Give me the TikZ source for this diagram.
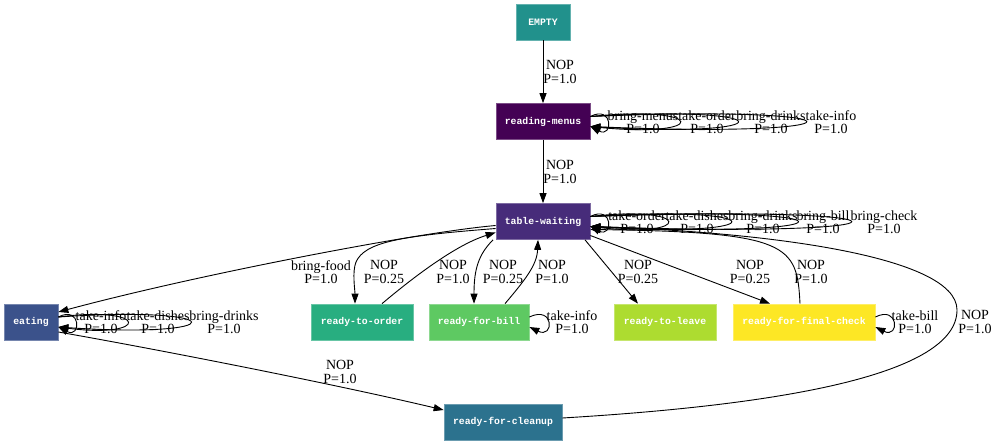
\documentclass[tikz,border=0pt]{standalone}
\usepackage{fontspec}
\setmainfont{Liberation Serif}
\newfontfamily\statefont{Liberation Mono}
\usetikzlibrary{arrows.meta,calc}

\definecolor{cEmpty}{HTML}{21918C}
\definecolor{cMenus}{HTML}{440154}
\definecolor{cWait}{HTML}{472C7A}
\definecolor{cEating}{HTML}{3B528B}
\definecolor{cOrder}{HTML}{28AE80}
\definecolor{cBill}{HTML}{5EC962}
\definecolor{cLeave}{HTML}{ADDC30}
\definecolor{cFinal}{HTML}{FDE725}
\definecolor{cClean}{HTML}{2C728E}

\tikzset{
  state/.style={rectangle, fill=#1, draw=#1!70!white, line width=0.7pt,
    minimum height=36pt, inner sep=0pt, text=white,
    font=\statefont\bfseries\fontsize{9.8}{10}\selectfont},
  arr/.style={-{Triangle[length=10pt,width=7pt]}, line width=0.9pt, black},
  lbl/.style={align=center, inner sep=0pt, font=\fontsize{14}{13.5}\selectfont}
}

\begin{document}
\begin{tikzpicture}[x=1pt,y=-1pt]
\useasboundingbox (0,0) rectangle (995,444);

% states
\node[state=cEmpty, minimum width=54pt]   (empty)  at (543,22)    {EMPTY};
\node[state=cMenus, minimum width=94pt]   (menus)  at (543,121.5) {reading-menus};
\node[state=cWait, minimum width=94pt]    (wait)   at (543,221.5) {table-waiting};
\node[state=cEating, minimum width=54pt]  (eating) at (31,322)    {eating};
\node[state=cOrder, minimum width=102pt]  (order)  at (362,322)   {ready-to-order};
\node[state=cBill, minimum width=100pt]   (bill)   at (479,322)   {ready-for-bill};
\node[state=cLeave, minimum width=102pt]  (leave)  at (665,322)   {ready-to-leave};
\node[state=cFinal, minimum width=142pt]  (final)  at (804,322)   {ready-for-final-check};
\node[state=cClean, minimum width=118pt]  (clean)  at (503,422)   {ready-for-cleanup};

% straight transitions down the spine
\draw[arr] (empty) -- (menus);
\node[lbl] (l-empty) at (560,72) {NOP\\P=1.0};
\draw[arr] (menus) -- (wait);
\node[lbl] (l-menus) at (560,172) {NOP\\P=1.0};

% self loops on reading-menus
\draw[arr] ($(menus.east)+(0,-5)$) .. controls +(23,-12) and +(23,12) .. ($(menus.east)+(0,5)$);
\draw[arr] ($(menus.east)+(0,-5)$) .. controls +(119,-12) and +(119,12) .. ($(menus.east)+(0,5)$);
\draw[arr] ($(menus.east)+(0,-5)$) .. controls +(196,-12) and +(196,12) .. ($(menus.east)+(0,5)$);
\draw[arr] ($(menus.east)+(0,-5)$) .. controls +(287,-12) and +(287,12) .. ($(menus.east)+(0,5)$);
\node[lbl] (l-m1) at (643,122) {bring-menus\\P=1.0};
\node[lbl] (l-m2) at (707,122) {take-order\\P=1.0};
\node[lbl] (l-m3) at (771,122) {bring-drinks\\P=1.0};
\node[lbl] (l-m4) at (831,122) {take-info\\P=1.0};

% self loops on table-waiting
\draw[arr] ($(wait.east)+(0,-5)$) .. controls +(23,-12) and +(23,12) .. ($(wait.east)+(0,5)$);
\draw[arr] ($(wait.east)+(0,-5)$) .. controls +(103,-12) and +(103,12) .. ($(wait.east)+(0,5)$);
\draw[arr] ($(wait.east)+(0,-5)$) .. controls +(187,-12) and +(187,12) .. ($(wait.east)+(0,5)$);
\draw[arr] ($(wait.east)+(0,-5)$) .. controls +(276,-12) and +(276,12) .. ($(wait.east)+(0,5)$);
\draw[arr] ($(wait.east)+(0,-5)$) .. controls +(347,-12) and +(347,12) .. ($(wait.east)+(0,5)$);
\node[lbl] (l-w1) at (637,222) {take-order\\P=1.0};
\node[lbl] (l-w2) at (697,222) {take-dishes\\P=1.0};
\node[lbl] (l-w3) at (763,222) {bring-drinks\\P=1.0};
\node[lbl] (l-w4) at (823,222) {bring-bill\\P=1.0};
\node[lbl] (l-w5) at (884,222) {bring-check\\P=1.0};

% self loops on eating
\draw[arr] ($(eating.east)+(0,-5)$) .. controls +(23,-12) and +(23,12) .. ($(eating.east)+(0,5)$);
\draw[arr] ($(eating.east)+(0,-5)$) .. controls +(92,-12) and +(92,12) .. ($(eating.east)+(0,5)$);
\draw[arr] ($(eating.east)+(0,-5)$) .. controls +(176,-12) and +(176,12) .. ($(eating.east)+(0,5)$);
\node[lbl] (l-e1) at (101,322) {take-info\\P=1.0};
\node[lbl] (l-e2) at (158,322) {take-dishes\\P=1.0};
\node[lbl] (l-e3) at (224,322) {bring-drinks\\P=1.0};

% self loops on ready-for-bill and ready-for-final-check
\draw[arr] ($(bill.east)+(0,-5)$) .. controls +(25,-12) and +(25,12) .. ($(bill.east)+(0,5)$);
\node[lbl] (l-b1) at (572,322) {take-info\\P=1.0};
\draw[arr] ($(final.east)+(0,-5)$) .. controls +(24,-12) and +(24,12) .. ($(final.east)+(0,5)$);
\node[lbl] (l-f1) at (915,322) {take-bill\\P=1.0};

% table-waiting -> eating
\draw[arr] ($(wait.west)+(0,4)$) .. controls (420,232) and (200,274) .. ($(eating.east)+(0,-10)$);
\node[lbl] (l-food) at (321,272) {bring-food\\P=1.0};

% table-waiting <-> ready-to-order
\draw[arr] ($(wait.west)+(0,7)$) .. controls (400,236) and (365,242) .. (356,262)
  .. controls (352,272) and (355,290) .. ($(order.north)+(-7,0)$);
\node[lbl] (l-to) at (384,272) {NOP\\P=0.25};
\draw[arr] ($(order.north)+(20,0)$) .. controls (410,280) and (455,245) .. ($(wait.west)+(0,11)$);
\node[lbl] (l-ot) at (453,272) {NOP\\P=1.0};

% table-waiting <-> ready-for-bill
\draw[arr] ($(wait.south)+(-50,0)$) .. controls (478,255) and (474,270) .. ($(bill.north)+(-5,0)$);
\node[lbl] (l-tb) at (503,272) {NOP\\P=0.25};
\draw[arr] ($(bill.north)+(26,0)$) .. controls (525,280) and (537,265) .. ($(wait.south)+(-5,0)$);
\node[lbl] (l-bt) at (552,272) {NOP\\P=1.0};

% table-waiting -> ready-to-leave
\draw[arr] ($(wait.south)+(42,0)$) -- ($(leave.north)+(-27,0)$);
\node[lbl] (l-tl) at (638,272) {NOP\\P=0.25};

% table-waiting <-> ready-for-final-check
\draw[arr] ($(wait.east)+(0,14)$) -- ($(final.north)+(-34,0)$);
\node[lbl] (l-tf) at (750,272) {NOP\\P=0.25};
\draw[arr] ($(final.north)+(-4,0)$) .. controls (797,245) and (790,232) .. ($(wait.east)+(0,8)$);
\node[lbl] (l-ft) at (811,272) {NOP\\P=1.0};

% eating -> ready-for-cleanup
\draw[arr] ($(eating.east)+(0,10)$) .. controls (150,348) and (330,383) .. ($(clean.west)+(0,-12)$);
\node[lbl] (l-ec) at (340,372) {NOP\\P=1.0};

% ready-for-cleanup -> table-waiting, round the right-hand side
\draw[arr] ($(clean.east)+(0,-4)$) .. controls (780,405) and (957,375) .. (957,310)
  .. controls (957,255) and (760,232) .. ($(wait.east)+(0,5)$);
\node[lbl] (l-ct) at (975,322) {NOP\\P=1.0};

\end{tikzpicture}
\end{document}
